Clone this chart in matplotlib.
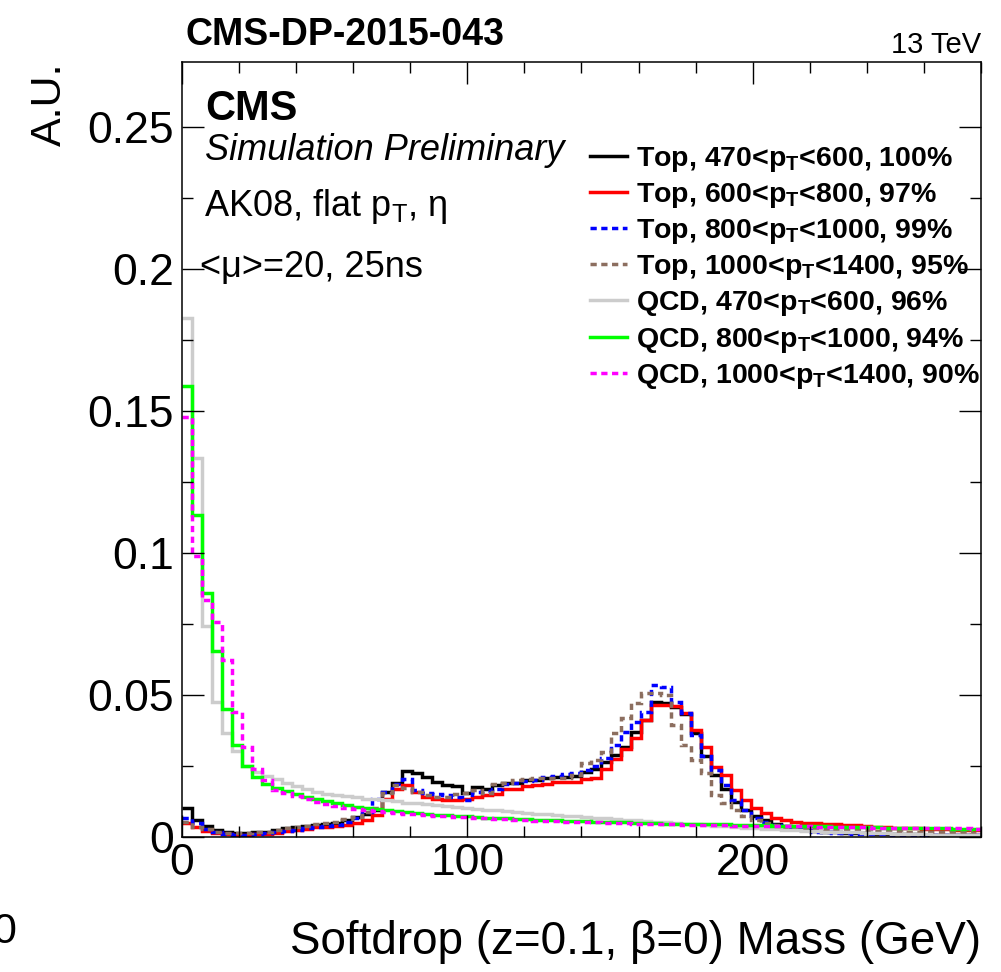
import numpy as np
import matplotlib
matplotlib.use("Agg")
import matplotlib.pyplot as plt
from matplotlib.ticker import MultipleLocator, FuncFormatter

plt.rcParams["font.family"] = ["Liberation Sans", "DejaVu Sans"]
plt.rcParams["mathtext.fontset"] = "custom"
plt.rcParams["mathtext.rm"] = "Liberation Sans"
plt.rcParams["mathtext.it"] = "Liberation Sans:italic"
plt.rcParams["mathtext.bf"] = "Liberation Sans:bold"

# 80 bins of 3.5 GeV from 0 to 280 GeV
bin_width = 3.5
n_bins = 80

top_470_600 = [0.0103, 0.0062, 0.0040, 0.0028, 0.0020, 0.0015, 0.0015, 0.0018, 0.0021, 0.0027,
               0.0032, 0.0036, 0.0041, 0.0043, 0.0046, 0.0051, 0.0062, 0.0071, 0.0083, 0.0097,
               0.0161, 0.0193, 0.0235, 0.0226, 0.0212, 0.0196, 0.0185, 0.0180, 0.0158, 0.0176,
               0.0170, 0.0185, 0.0193, 0.0193, 0.0202, 0.0202, 0.0210, 0.0214, 0.0214, 0.0216,
               0.0232, 0.0240, 0.0266, 0.0290, 0.0318, 0.0372, 0.0414, 0.0478, 0.0472, 0.0460,
               0.0435, 0.0369, 0.0287, 0.0220, 0.0170, 0.0126, 0.0095, 0.0075, 0.0060, 0.0048,
               0.0040, 0.0033, 0.0028, 0.0024, 0.0021, 0.0018, 0.0016, 0.0015, 0.0014, 0.0013,
               0.0012, 0.0012, 0.0011, 0.0011, 0.0010, 0.0010, 0.0009, 0.0009, 0.0009, 0.0008]

top_600_800 = [0.0050, 0.0038, 0.0024, 0.0017, 0.0012, 0.0009, 0.0009, 0.0012, 0.0013, 0.0017,
               0.0024, 0.0026, 0.0030, 0.0036, 0.0038, 0.0040, 0.0044, 0.0052, 0.0063, 0.0080,
               0.0134, 0.0170, 0.0185, 0.0161, 0.0141, 0.0134, 0.0132, 0.0132, 0.0134, 0.0143,
               0.0150, 0.0152, 0.0170, 0.0172, 0.0181, 0.0185, 0.0190, 0.0196, 0.0197, 0.0197,
               0.0206, 0.0210, 0.0241, 0.0275, 0.0312, 0.0350, 0.0414, 0.0467, 0.0467, 0.0463,
               0.0437, 0.0379, 0.0320, 0.0247, 0.0220, 0.0167, 0.0132, 0.0103, 0.0085, 0.0067,
               0.0062, 0.0056, 0.0052, 0.0052, 0.0047, 0.0047, 0.0044, 0.0044, 0.0040, 0.0038,
               0.0036, 0.0034, 0.0033, 0.0032, 0.0031, 0.0030, 0.0029, 0.0028, 0.0027, 0.0026]

top_800_1000 = [0.0067, 0.0050, 0.0030, 0.0019, 0.0012, 0.0009, 0.0009, 0.0012, 0.0015, 0.0019,
                0.0024, 0.0027, 0.0032, 0.0036, 0.0040, 0.0044, 0.0056, 0.0068, 0.0091, 0.0134,
                0.0161, 0.0190, 0.0205, 0.0167, 0.0155, 0.0152, 0.0149, 0.0143, 0.0132, 0.0161,
                0.0165, 0.0170, 0.0190, 0.0193, 0.0198, 0.0202, 0.0212, 0.0216, 0.0224, 0.0226,
                0.0238, 0.0250, 0.0279, 0.0326, 0.0372, 0.0408, 0.0443, 0.0537, 0.0531, 0.0478,
                0.0437, 0.0361, 0.0287, 0.0238, 0.0185, 0.0132, 0.0095, 0.0070, 0.0055, 0.0045,
                0.0036, 0.0030, 0.0025, 0.0021, 0.0018, 0.0016, 0.0014, 0.0013, 0.0012, 0.0011,
                0.0011, 0.0010, 0.0010, 0.0009, 0.0009, 0.0009, 0.0008, 0.0008, 0.0008, 0.0008]

top_1000_1400 = [0.0056, 0.0038, 0.0029, 0.0021, 0.0016, 0.0014, 0.0014, 0.0018, 0.0021, 0.0026,
                 0.0032, 0.0038, 0.0041, 0.0048, 0.0052, 0.0055, 0.0064, 0.0073, 0.0091, 0.0103,
                 0.0158, 0.0185, 0.0173, 0.0161, 0.0150, 0.0143, 0.0143, 0.0153, 0.0155, 0.0167,
                 0.0158, 0.0188, 0.0193, 0.0202, 0.0205, 0.0208, 0.0208, 0.0208, 0.0210, 0.0220,
                 0.0261, 0.0273, 0.0302, 0.0367, 0.0420, 0.0473, 0.0508, 0.0508, 0.0502, 0.0396,
                 0.0326, 0.0273, 0.0226, 0.0150, 0.0120, 0.0095, 0.0075, 0.0060, 0.0050, 0.0043,
                 0.0038, 0.0035, 0.0032, 0.0030, 0.0029, 0.0028, 0.0027, 0.0026, 0.0025, 0.0024,
                 0.0023, 0.0022, 0.0021, 0.0021, 0.0020, 0.0019, 0.0019, 0.0018, 0.0018, 0.0017]

qcd_470_600 = [0.1830, 0.1337, 0.0743, 0.0478, 0.0367, 0.0306, 0.0250, 0.0232, 0.0218, 0.0205,
               0.0192, 0.0180, 0.0170, 0.0161, 0.0153, 0.0149, 0.0145, 0.0141, 0.0137, 0.0134,
               0.0131, 0.0127, 0.0123, 0.0120, 0.0117, 0.0114, 0.0111, 0.0107, 0.0104, 0.0101,
               0.0098, 0.0095, 0.0092, 0.0089, 0.0086, 0.0083, 0.0081, 0.0079, 0.0076, 0.0074,
               0.0072, 0.0069, 0.0067, 0.0065, 0.0062, 0.0060, 0.0057, 0.0055, 0.0053, 0.0050,
               0.0048, 0.0046, 0.0043, 0.0041, 0.0039, 0.0037, 0.0035, 0.0033, 0.0031, 0.0029,
               0.0027, 0.0026, 0.0024, 0.0023, 0.0021, 0.0020, 0.0019, 0.0018, 0.0017, 0.0015,
               0.0014, 0.0013, 0.0013, 0.0012, 0.0011, 0.0010, 0.0009, 0.0008, 0.0008, 0.0007]

qcd_800_1000 = [0.1590, 0.1136, 0.0860, 0.0658, 0.0451, 0.0325, 0.0252, 0.0214, 0.0188, 0.0175,
                0.0163, 0.0152, 0.0143, 0.0135, 0.0127, 0.0120, 0.0114, 0.0109, 0.0104, 0.0100,
                0.0096, 0.0092, 0.0089, 0.0086, 0.0083, 0.0080, 0.0078, 0.0076, 0.0074, 0.0072,
                0.0070, 0.0068, 0.0067, 0.0065, 0.0064, 0.0063, 0.0062, 0.0060, 0.0059, 0.0058,
                0.0057, 0.0056, 0.0055, 0.0054, 0.0053, 0.0052, 0.0051, 0.0050, 0.0049, 0.0049,
                0.0048, 0.0047, 0.0047, 0.0046, 0.0046, 0.0045, 0.0044, 0.0044, 0.0043, 0.0042,
                0.0042, 0.0041, 0.0040, 0.0040, 0.0039, 0.0038, 0.0038, 0.0037, 0.0036, 0.0036,
                0.0035, 0.0034, 0.0034, 0.0033, 0.0033, 0.0032, 0.0032, 0.0031, 0.0031, 0.0030]

qcd_1000_1400 = [0.1480, 0.0991, 0.0836, 0.0760, 0.0625, 0.0443, 0.0320, 0.0240, 0.0203, 0.0168,
                 0.0156, 0.0145, 0.0135, 0.0125, 0.0117, 0.0111, 0.0105, 0.0100, 0.0096, 0.0093,
                 0.0090, 0.0087, 0.0084, 0.0081, 0.0079, 0.0077, 0.0075, 0.0073, 0.0071, 0.0069,
                 0.0067, 0.0065, 0.0064, 0.0062, 0.0061, 0.0059, 0.0058, 0.0057, 0.0056, 0.0055,
                 0.0054, 0.0053, 0.0052, 0.0051, 0.0050, 0.0049, 0.0048, 0.0047, 0.0047, 0.0046,
                 0.0045, 0.0045, 0.0044, 0.0043, 0.0043, 0.0042, 0.0042, 0.0041, 0.0041, 0.0040,
                 0.0040, 0.0039, 0.0039, 0.0038, 0.0038, 0.0037, 0.0037, 0.0036, 0.0036, 0.0035,
                 0.0035, 0.0034, 0.0034, 0.0033, 0.0033, 0.0033, 0.0032, 0.0032, 0.0032, 0.0031]

labels = [r"Top, 470<p$_{\mathbf{T}}$<600, 100%",
          r"Top, 600<p$_{\mathbf{T}}$<800, 97%",
          r"Top, 800<p$_{\mathbf{T}}$<1000, 99%",
          r"Top, 1000<p$_{\mathbf{T}}$<1400, 95%",
          r"QCD, 470<p$_{\mathbf{T}}$<600, 96%",
          r"QCD, 800<p$_{\mathbf{T}}$<1000, 94%",
          r"QCD, 1000<p$_{\mathbf{T}}$<1400, 90%"]

series = [top_470_600, top_600_800, top_800_1000, top_1000_1400,
          qcd_470_600, qcd_800_1000, qcd_1000_1400]
colors = ["black", "#ff0000", "#0000ff", "#8c6e5f", "#cccccc", "#00ff00", "#ff00ff"]
dashed = (0, (1.8, 1.3))
styles = ["-", "-", dashed, dashed, "-", "-", dashed]

edges = np.arange(n_bins + 1) * bin_width

fig, ax = plt.subplots(figsize=(10.01, 9.72), dpi=100)
fig.subplots_adjust(left=0.1818, right=0.98, bottom=0.1384, top=0.9362)

handles = []
for vals, col, ls, lab in zip(series, colors, styles, labels):
    h = ax.stairs(vals, edges, baseline=None, color=col, linestyle=ls,
                  linewidth=2.5, label=lab)
    handles.append(h)

ax.set_xlim(0, 280)
ax.set_ylim(0, 0.273)

ax.xaxis.set_major_locator(MultipleLocator(100))
ax.xaxis.set_minor_locator(MultipleLocator(20))
ax.yaxis.set_major_locator(MultipleLocator(0.05))
ax.yaxis.set_minor_locator(MultipleLocator(0.025))
ax.yaxis.set_major_formatter(FuncFormatter(lambda v, p: "%g" % round(v, 3)))

ax.tick_params(which="both", direction="in", top=True, right=True, width=1.0,
               labelsize=32)
ax.tick_params(which="major", length=16)
ax.tick_params(which="minor", length=8)
ax.tick_params(axis="x", pad=4)
ax.tick_params(axis="y", pad=6)
for s in ax.spines.values():
    s.set_linewidth(1.1)

ax.set_xlabel(r"Softdrop (z=0.1, β=0) Mass (GeV)", fontsize=33, loc="right",
              labelpad=26)
ax.set_ylabel("A.U.", fontsize=31, loc="top", labelpad=12)

ax.legend(handles=handles, loc="upper left", bbox_to_anchor=(0.5106, 0.893),
          frameon=False, prop={"weight": "bold", "size": 20.5},
          handlelength=1.3, handletextpad=0.3, labelspacing=0.25,
          borderpad=0, borderaxespad=0)

ax.text(0.029, 0.925, "CMS", transform=ax.transAxes, fontsize=30,
        fontweight="bold", va="baseline")
ax.text(0.029, 0.8736, "Simulation Preliminary", transform=ax.transAxes,
        fontsize=26, style="italic", va="baseline")
ax.text(0.027, 0.8011, r"AK08, flat p$_{\mathrm{T}}$, η", transform=ax.transAxes,
        fontsize=26, va="baseline")
ax.text(0.023, 0.7232, "<μ>=20, 25ns", transform=ax.transAxes,
        fontsize=26, va="baseline")

fig.text(0.185, 0.9537, "CMS-DP-2015-043", fontsize=27, fontweight="bold",
         va="baseline")
fig.text(0.98, 0.9455, "13 TeV", fontsize=21, ha="right", va="baseline")
fig.text(0.004, 0.03, "0", fontsize=31, ha="center", va="baseline")

fig.savefig("out.png", dpi=100)
